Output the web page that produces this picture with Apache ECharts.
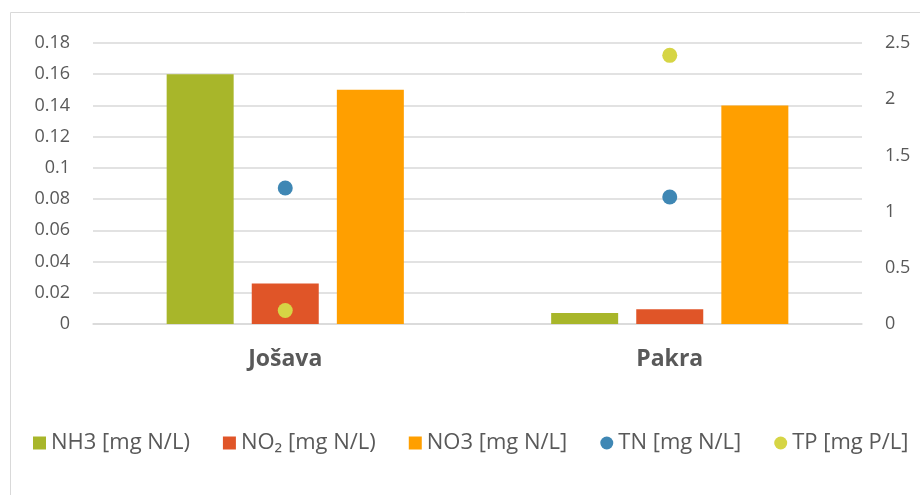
<!DOCTYPE html>
<html>
<head>
<meta charset="utf-8">
<script src="https://cdn.jsdelivr.net/npm/echarts@6/dist/echarts.min.js"></script>
<style>
  html, body { margin: 0; padding: 0; background: #fff; }
  #chart { width: 920px; height: 495px; }
</style>
</head>
<body>
<div id="chart"></div>
<script>
// sampling sites
const categories = ['Jošava', 'Pakra'];
// left axis (bars), mg/L
const nh3 = [0.160, 0.007];
const no2 = [0.026, 0.0094];
const no3 = [0.150, 0.140];
// right axis (points)
const tn = [1.21, 1.13];
const tp = [0.12, 2.39];

const seriesNames = ['NH3 [mg N/L)', 'NO₂ [mg N/L)', 'NO3 [mg N/L]', 'TN [mg N/L]', 'TP [mg P/L]'];
const colors = ['#a8b62a', '#e05528', '#ff9f00', '#3f87b4', '#d6d545'];

const txt = '#595959';
const font = '"Open Sans", Lato, sans-serif';

let myChart = echarts.init(document.getElementById('chart'));
let option = {
  animation: false,
  textStyle: { fontFamily: font },
  color: colors,
  graphic: [{
    type: 'rect',
    shape: { x: 10.5, y: 12.5, width: 930, height: 500 },
    style: { fill: 'none', stroke: '#d9d9d9', lineWidth: 1 }
  }],
  grid: { left: 93, right: 58, top: 43, bottom: 171 },
  legend: {
    left: 28,
    top: 427,
    itemWidth: 13,
    itemHeight: 13,
    itemGap: 33,
    textStyle: { color: txt, fontSize: 22, fontFamily: font },
    data: [
      { name: seriesNames[0], icon: 'rect' },
      { name: seriesNames[1], icon: 'rect' },
      { name: seriesNames[2], icon: 'rect' },
      { name: seriesNames[3], icon: 'circle' },
      { name: seriesNames[4], icon: 'circle' }
    ]
  },
  xAxis: {
    type: 'category',
    data: categories,
    axisTick: { show: false },
    axisLine: { show: true, lineStyle: { color: '#d9d9d9', width: 1.5 } },
    axisLabel: { color: txt, fontSize: 23, fontWeight: 'bold', margin: 24, fontFamily: font }
  },
  yAxis: [{
    type: 'value',
    min: 0, max: 0.18, interval: 0.02,
    axisLine: { show: false },
    axisTick: { show: false },
    axisLabel: { color: txt, fontSize: 18, margin: 23, fontFamily: font },
    splitLine: { lineStyle: { color: '#d9d9d9', width: 1.5 } }
  }, {
    type: 'value',
    min: 0, max: 2.5, interval: 0.5,
    axisLine: { show: false },
    axisTick: { show: false },
    axisLabel: { color: txt, fontSize: 18, margin: 23, fontFamily: font },
    splitLine: { show: false }
  }],
  series: [
    { name: seriesNames[0], type: 'bar', data: nh3, barWidth: 67, barGap: '27%' },
    { name: seriesNames[1], type: 'bar', data: no2, barWidth: 67, barGap: '27%' },
    { name: seriesNames[2], type: 'bar', data: no3, barWidth: 67, barGap: '27%' },
    { name: seriesNames[3], type: 'scatter', yAxisIndex: 1, data: tn, symbolSize: 15, itemStyle: { opacity: 1 } },
    { name: seriesNames[4], type: 'scatter', yAxisIndex: 1, data: tp, symbolSize: 15, itemStyle: { opacity: 1 } }
  ]
};
myChart.setOption(option);
</script>
</body>
</html>
